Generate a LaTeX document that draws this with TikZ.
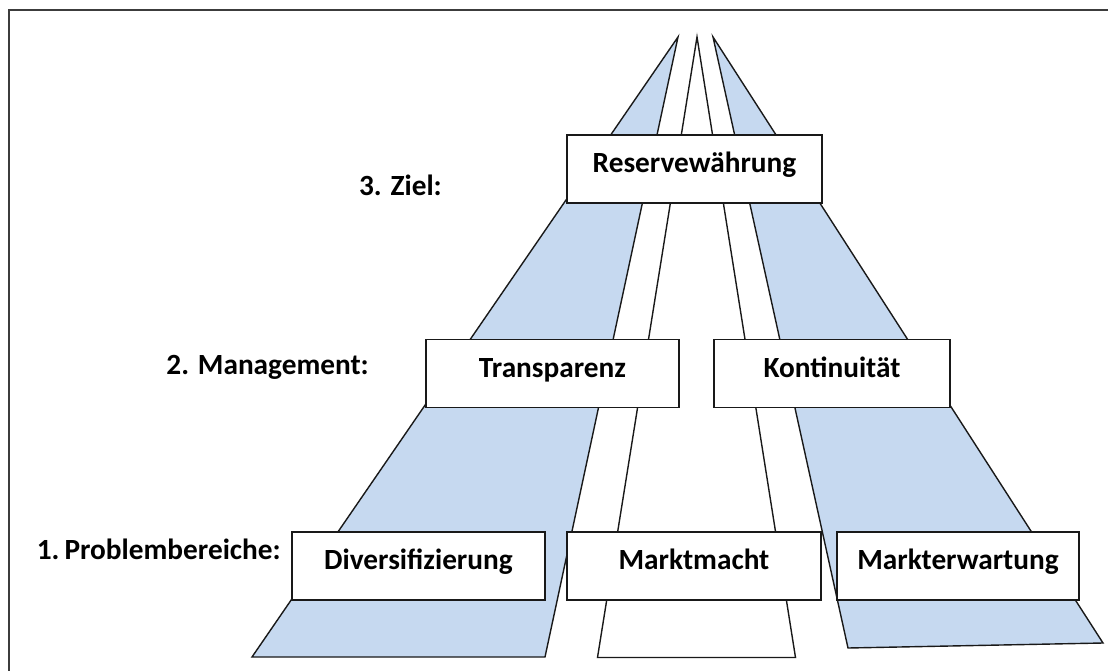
\documentclass[tikz,border=0pt]{standalone}
\usepackage{fontspec}
\setmainfont{Carlito}
\definecolor{lane}{RGB}{198,217,240}
\definecolor{framegray}{RGB}{60,60,60}
\definecolor{edge}{RGB}{25,25,25}
\begin{document}
\begin{tikzpicture}[x=1pt,y=-1pt,
  lanefill/.style={fill=lane,draw=edge,line width=1.4pt,line join=miter},
  lanewhite/.style={fill=white,draw=edge,line width=1.4pt},
  boxnode/.style={draw=edge,fill=white,line width=1.4pt,inner sep=0pt,
    minimum height=68pt,text height=14pt,text depth=7pt,
    font=\fontsize{29.3}{31}\selectfont\bfseries},
  lvl/.style={anchor=base east,inner sep=0pt,font=\fontsize{29.3}{31}\selectfont\bfseries}]
\useasboundingbox (0,0) rectangle (1108,671);
\begin{scope}
\clip (0,0) rectangle (1108,671);
\draw[framegray,line width=2pt] (8.5,700) -- (8.5,10) -- (1130,10);
\end{scope}
% lanes
\draw[lanefill] (678,37) -- (252,657) -- (545,657) -- cycle;
\draw[lanewhite] (697,37) -- (597.5,657.5) -- (795.5,657.5) -- cycle;
\draw[lanefill] (713,37) -- (848,648) -- (1103,643) -- cycle;
% boxes
\node[boxnode,minimum width=255pt] (res) at (694.5,169) {Reservewährung};
\node[boxnode,minimum width=253pt] (tra) at (552.5,373.5) {Transparenz};
\node[boxnode,minimum width=236pt] (kon) at (832,373.5) {Kontinuität};
\node[boxnode,minimum width=253pt] (div) at (418.5,566) {Diversifizierung};
\node[boxnode,minimum width=254pt] (mm) at (694,566) {Marktmacht};
\node[boxnode,minimum width=242pt] (me) at (958,566) {Markterwartung};
% level labels
\node[lvl] (l3) at (442,196) {3. Ziel:};
\node[lvl] (l2) at (369,374) {2. Management:};
\node[lvl] (l1) at (281,559) {1.\hspace{5pt}Problembereiche:};
\end{tikzpicture}
\end{document}
